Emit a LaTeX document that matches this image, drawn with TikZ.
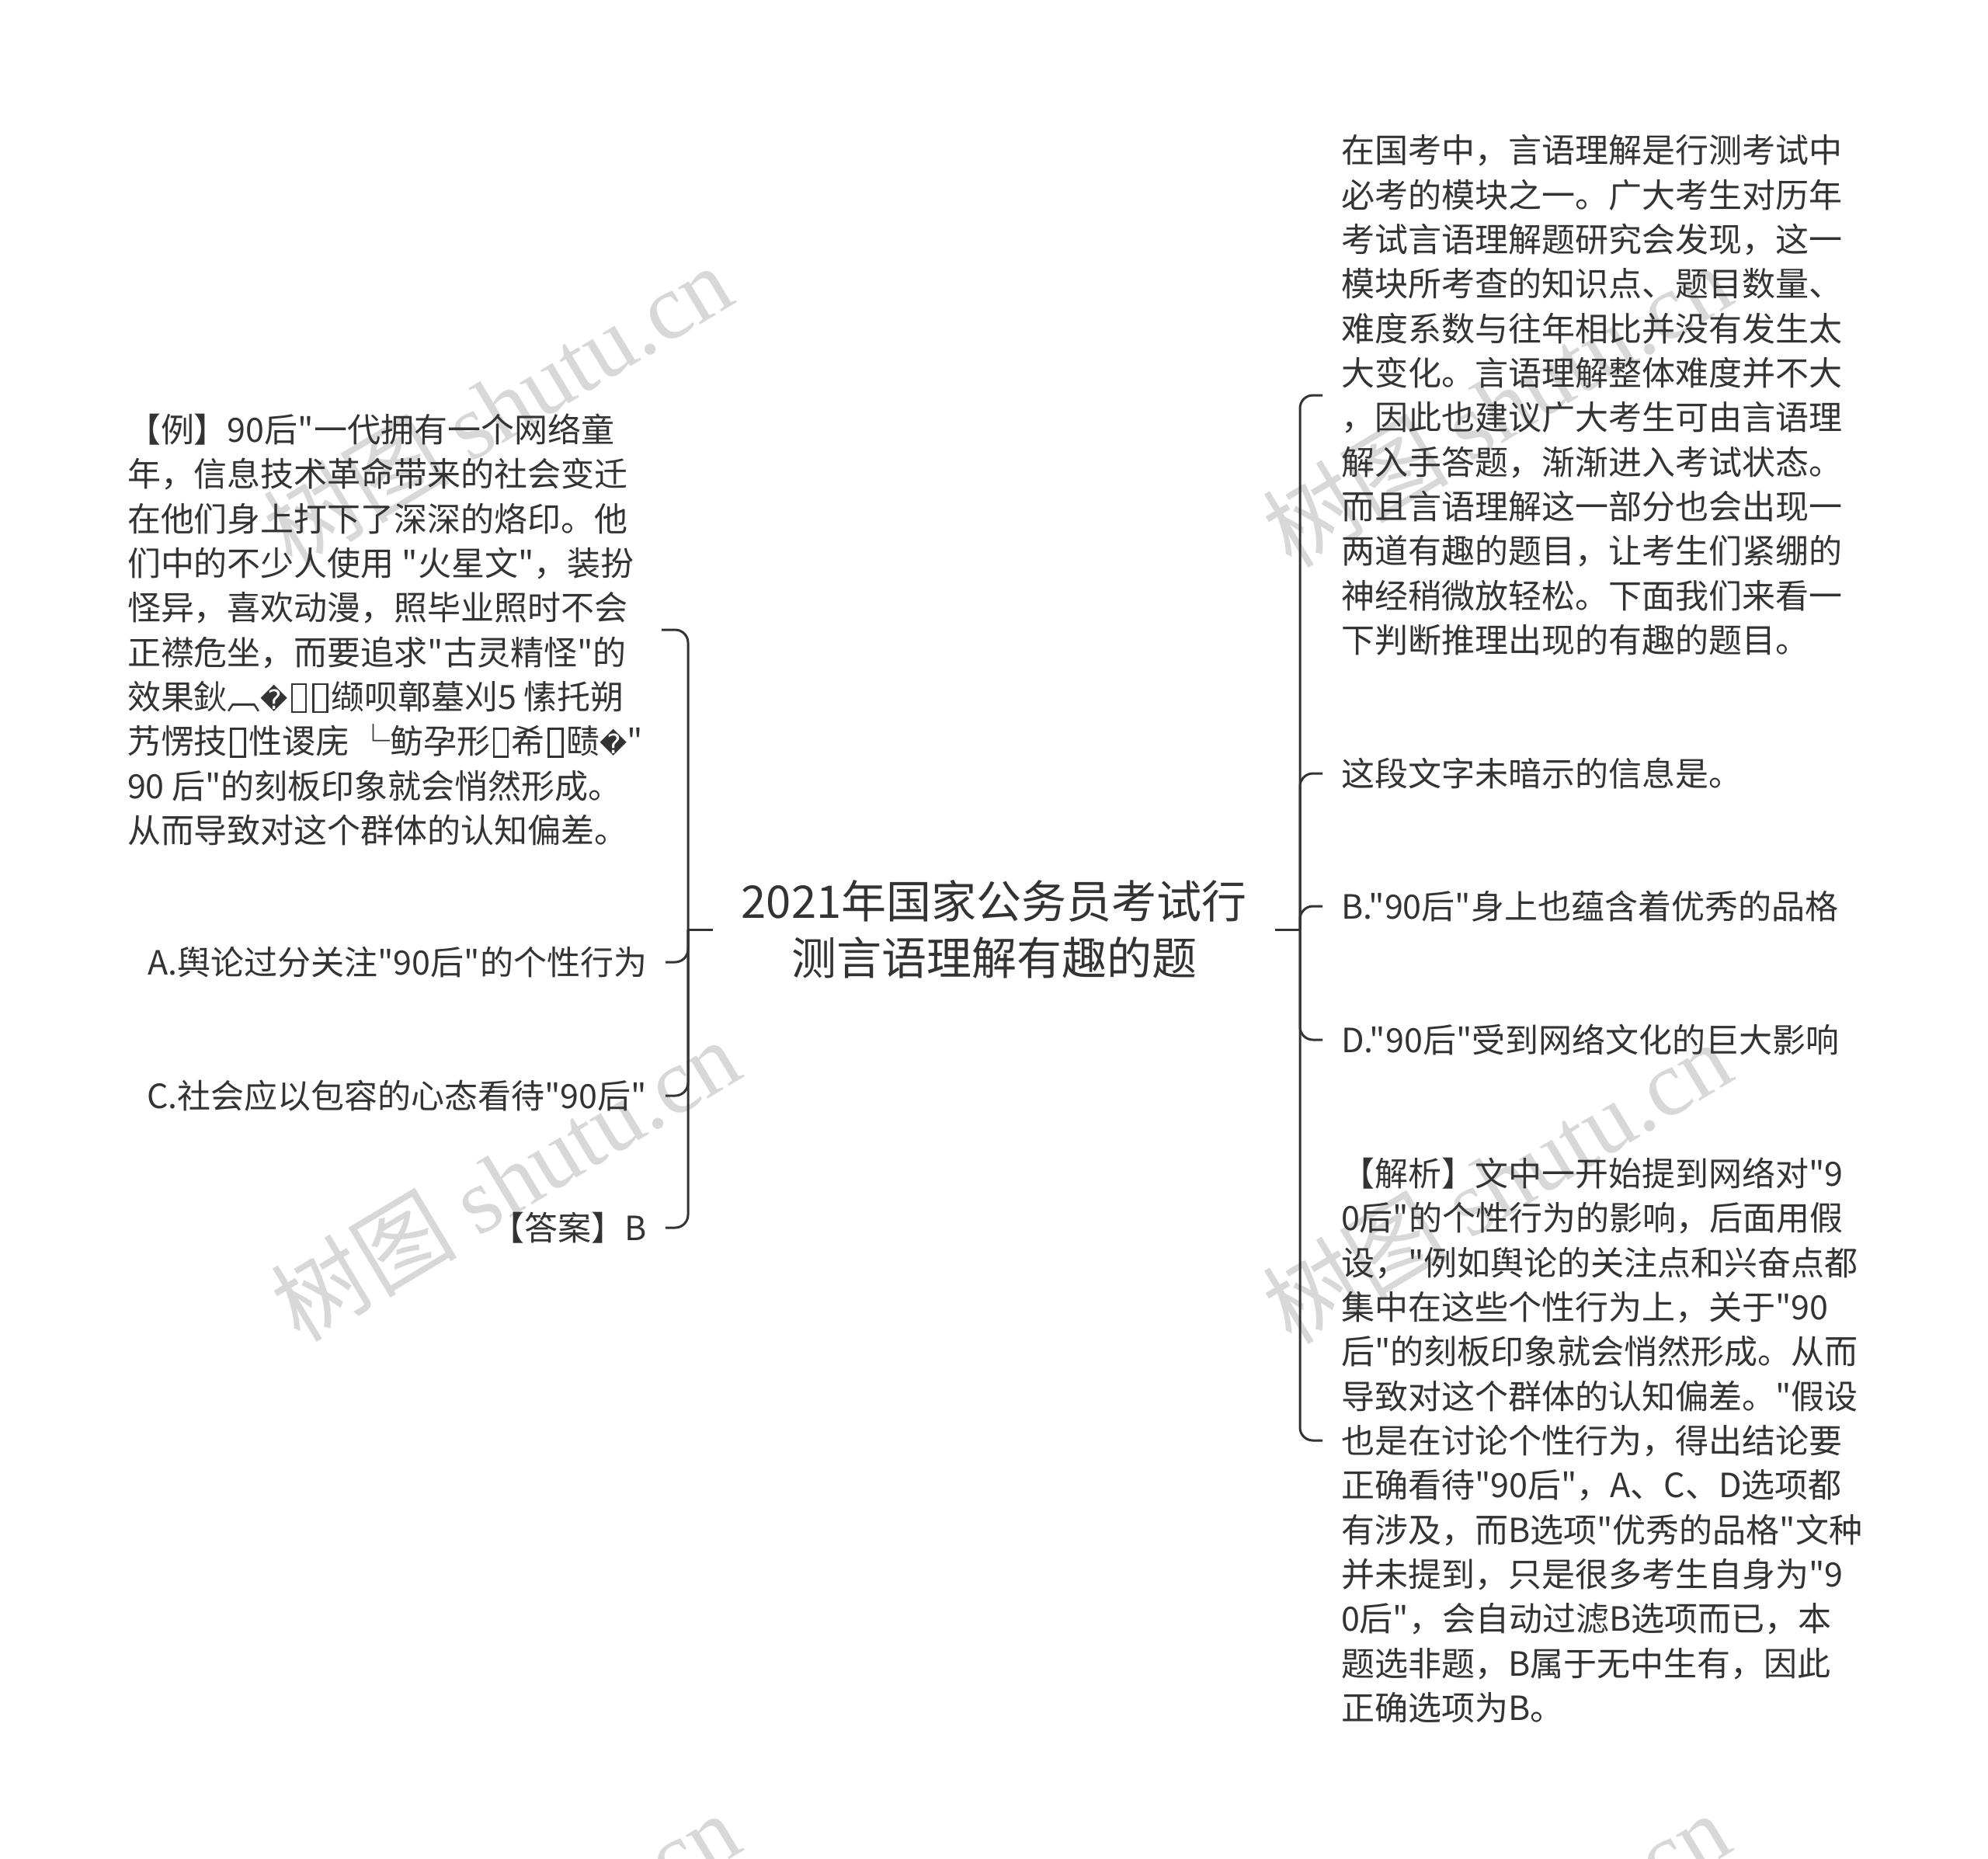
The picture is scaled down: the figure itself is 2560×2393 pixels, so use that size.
\documentclass[tikz,border=0pt]{standalone}
\usepackage{fontspec}
\usepackage{graphicx}
\setmainfont{Noto Sans CJK SC}[Ligatures=TeXOff]
\newfontfamily\wmfont{Liberation Serif}
\newfontfamily\repfont{DejaVu Sans}
\usetikzlibrary{positioning,calc}
\definecolor{ink}{HTML}{333333}
\definecolor{wmgray}{HTML}{D8D8D8}
% garbled glyphs of the source text
\newcommand{\tofu}{{\setlength{\fboxsep}{0pt}\setlength{\fboxrule}{0.06em}\kern0.08em\raisebox{-0.05em}{\fbox{\rule{0pt}{0.78em}\hspace{0.36em}}}\kern0.08em}}
\newcommand{\badch}{{\repfont\scalebox{0.8}{�}}}

\tikzset{
  topic/.style={font=\fontsize{17.4pt}{22pt}\selectfont, text=ink, align=center, inner xsep=10.8pt},
  leaf/.style={font=\fontsize{12.9pt}{17.2pt}\selectfont, text=ink, align=left, inner xsep=7pt},
  link/.style={draw=ink, line width=0.9pt, rounded corners=5pt},
  wm/.style={font=\fontsize{36pt}{36pt}\selectfont, text=wmgray, rotate=31},
}

\begin{document}
\begin{tikzpicture}[x=0.3pt,y=-0.3pt]
  \useasboundingbox (0,0) rectangle (2560,2393);
  % watermarks
  \node[wm] (wmA) at (640,522) {树图 {\wmfont shutu.cn}};
  \node[wm] (wmB) at (650,1519) {树图 {\wmfont shutu.cn}};
  \node[wm] (wmC) at (650,2515) {树图 {\wmfont shutu.cn}};
  \node[wm] (wmD) at (1927,522) {树图 {\wmfont shutu.cn}};
  \node[wm] (wmE) at (1927,1522) {树图 {\wmfont shutu.cn}};
  \node[wm] (wmF) at (1925,2515) {树图 {\wmfont shutu.cn}};

  \node[topic] (topic) at (1280,1197) {2021年国家公务员考试行\\测言语理解有趣的题};

  % left branch
  \coordinate (lfork) at (886,1197);
  \node[leaf,anchor=west] (ex) at (140,811) {【例】90后"一代拥有一个网络童\\
    年，信息技术革命带来的社会变迁\\
    在他们身上打下了深深的烙印。他\\
    们中的不少人使用 "火星文"，装扮\\
    怪异，喜欢动漫，照毕业照时不会\\
    正襟危坐，而要追求"古灵精怪"的\\
    效果鈥︹\badch\tofu\tofu 缬呗鄣墓刈5 愫托朔\\
    艿愣技\tofu 性谡庑 └鲂孕形\tofu 希\tofu 赜\badch"\\
    90 后"的刻板印象就会悄然形成。\\
    从而导致对这个群体的认知偏差。};
  \node[leaf,anchor=east] (optA) at (857,1239) {A.舆论过分关注"90后"的个性行为};
  \node[leaf,anchor=east] (optC) at (857,1411) {C.社会应以包容的心态看待"90后"};
  \node[leaf,anchor=east] (ans) at (857,1581) {【答案】B};
  \draw[link] (topic.west) -- (lfork);
  \foreach \n in {ex,optA,optC,ans}
    \draw[link] (lfork) |- (\n.east);

  % right branch
  \coordinate (rfork) at (1674,1197);
  \node[leaf,anchor=west] (intro) at (1703,509) {在国考中，言语理解是行测考试中\\
    必考的模块之一。广大考生对历年\\
    考试言语理解题研究会发现，这一\\
    模块所考查的知识点、题目数量、\\
    难度系数与往年相比并没有发生太\\
    大变化。言语理解整体难度并不大\\
    ，因此也建议广大考生可由言语理\\
    解入手答题，渐渐进入考试状态。\\
    而且言语理解这一部分也会出现一\\
    两道有趣的题目，让考生们紧绷的\\
    神经稍微放轻松。下面我们来看一\\
    下判断推理出现的有趣的题目。};
  \node[leaf,anchor=west] (ask) at (1703,996) {这段文字未暗示的信息是。};
  \node[leaf,anchor=west] (optB) at (1703,1167) {B."90后"身上也蕴含着优秀的品格};
  \node[leaf,anchor=west] (optD) at (1703,1339) {D."90后"受到网络文化的巨大影响};
  \node[leaf,anchor=west] (expl) at (1703,1855) {【解析】文中一开始提到网络对"9\\
    0后"的个性行为的影响，后面用假\\
    设，"例如舆论的关注点和兴奋点都\\
    集中在这些个性行为上，关于"90\\
    后"的刻板印象就会悄然形成。从而\\
    导致对这个群体的认知偏差。"假设\\
    也是在讨论个性行为，得出结论要\\
    正确看待"90后"，A、C、D选项都\\
    有涉及，而B选项"优秀的品格"文种\\
    并未提到，只是很多考生自身为"9\\
    0后"，会自动过滤B选项而已，本\\
    题选非题，B属于无中生有，因此\\
    正确选项为B。};
  \draw[link] (topic.east) -- (rfork);
  \foreach \n in {intro,ask,optB,optD,expl}
    \draw[link] (rfork) |- (\n.west);
\end{tikzpicture}
\end{document}
